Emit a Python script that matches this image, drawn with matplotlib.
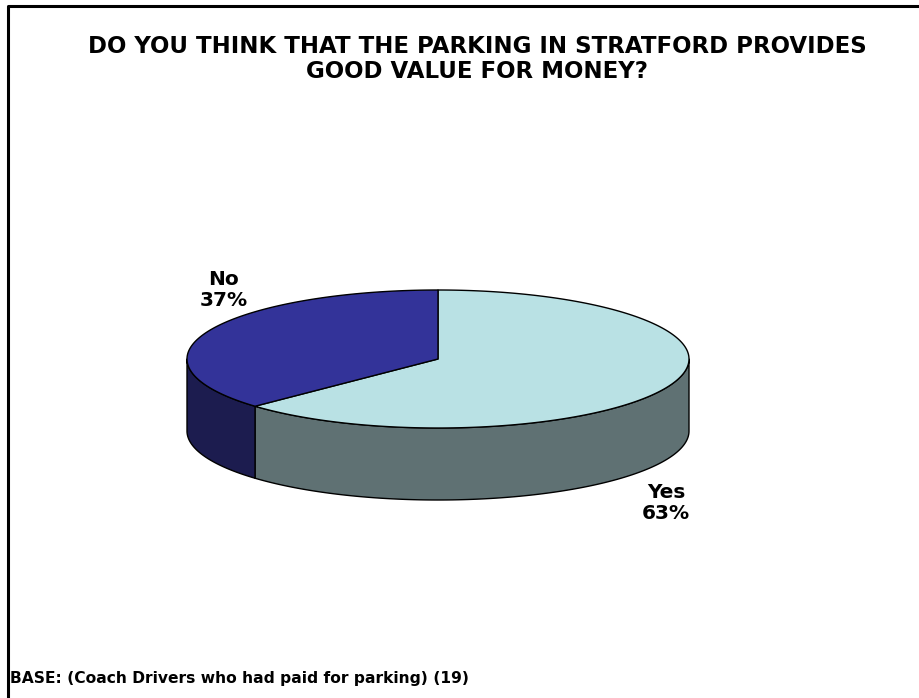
import numpy as np
import matplotlib
matplotlib.use("Agg")
import matplotlib.pyplot as plt
from matplotlib.patches import Polygon
from matplotlib.lines import Line2D

# Survey answers
categories = ["Yes", "No"]
shares = [63, 37]
top_colors = ["#b9e1e4", "#333399"]
side_colors = ["#5f7173", "#1c1c4f"]

title = "DO YOU THINK THAT THE PARKING IN STRATFORD PROVIDES\nGOOD VALUE FOR MONEY?"
base_note = "BASE: (Coach Drivers who had paid for parking) (19)"

W, H = 920, 698
fig = plt.figure(figsize=(W / 100, H / 100), dpi=100)
ax = fig.add_axes([0, 0, 1, 1])
ax.set_xlim(0, W)
ax.set_ylim(H, 0)
ax.axis("off")

# Outer frame (top and left edges)
ax.add_line(Line2D([8, 8, W], [H, 6, 6], color="black", lw=2.2, solid_capstyle="butt"))

# Geometry of the tilted pie
cx, cy = 438.0, 359.0
rx, ry = 251.0, 69.0
depth = 72.0


def pt(theta, dy=0.0):
    return cx + rx * np.cos(theta), cy - ry * np.sin(theta) + dy


# Slice angles: "No" starts at 12 o'clock, running counter-clockwise
total = sum(shares)
no_frac = shares[1] / total
start_no = np.pi / 2
end_no = start_no + 2 * np.pi * no_frac
spans = {
    "No": (start_no, end_no),
    "Yes": (end_no, start_no + 2 * np.pi),
}

edge = dict(edgecolor="black", linewidth=1.0, joinstyle="round")

# Side walls (only the front half, angles between pi and 2*pi, is visible)
for name, side_c in zip(categories, side_colors):
    a1, a2 = spans[name]
    lo, hi = max(a1, np.pi), min(a2, 2 * np.pi)
    if hi > lo:
        t = np.linspace(lo, hi, 200)
        upper = [pt(a) for a in t]
        lower = [pt(a, depth) for a in t[::-1]]
        ax.add_patch(Polygon(upper + lower, closed=True, facecolor=side_c, **edge))

# Top faces
for name, top_c in zip(categories, top_colors):
    a1, a2 = spans[name]
    t = np.linspace(a1, a2, 400)
    pts = [(cx, cy)] + [pt(a) for a in t]
    ax.add_patch(Polygon(pts, closed=True, facecolor=top_c, **edge))

# Labels
font = dict(family="DejaVu Sans", fontweight="bold", color="black")
ax.text(477, 59, title, ha="center", va="center", fontsize=16.5,
        linespacing=1.12, **font)
ax.text(224, 290, f"{categories[1]}\n{shares[1]}%", ha="center", va="center",
        fontsize=14.5, linespacing=1.15, **font)
ax.text(666, 503, f"{categories[0]}\n{shares[0]}%", ha="center", va="center",
        fontsize=14.5, linespacing=1.15, **font)
ax.text(10, 679, base_note, ha="left", va="center", fontsize=11.2, **font)

fig.savefig("out.png", dpi=100, facecolor="white")
